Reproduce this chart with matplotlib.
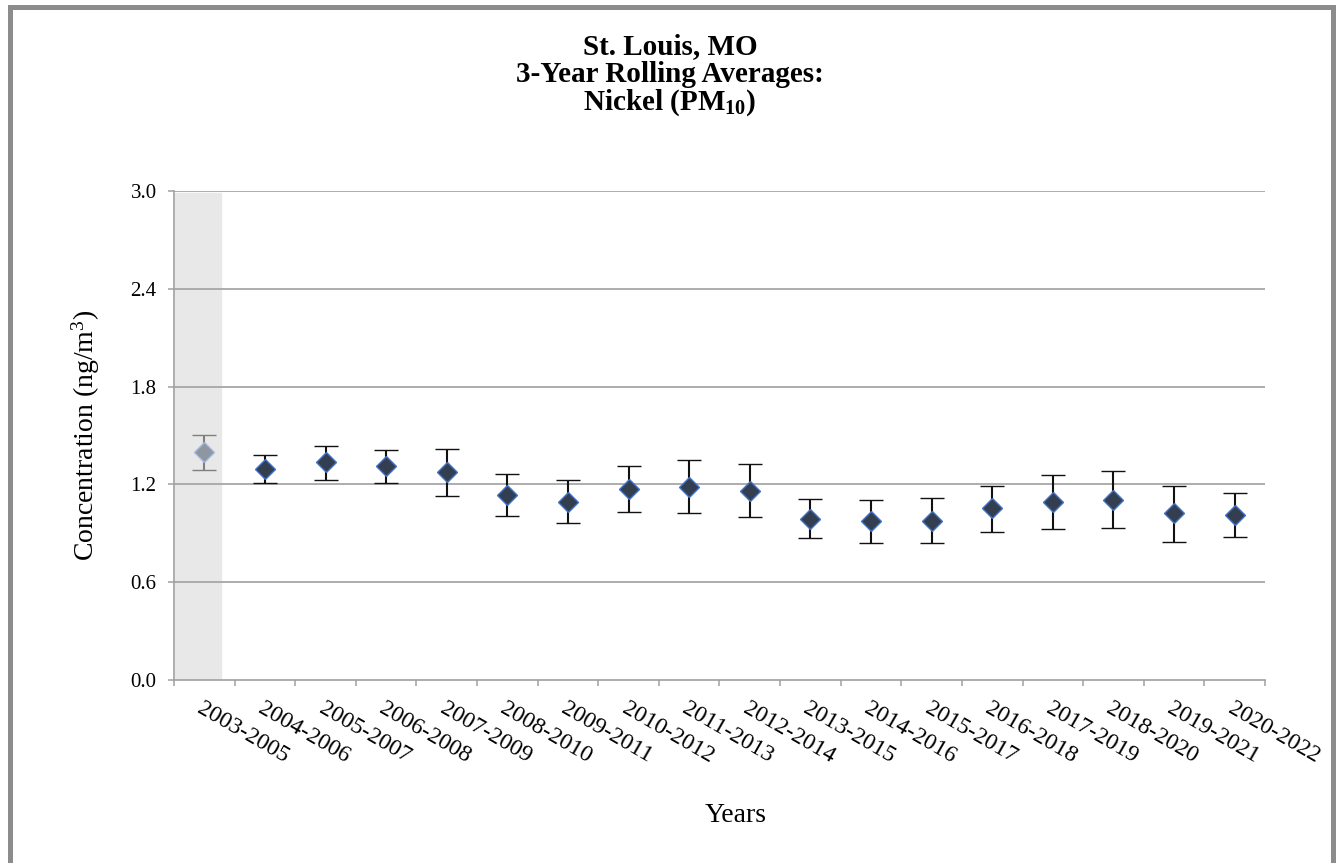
import numpy as np
import matplotlib
matplotlib.use('Agg')
import matplotlib.pyplot as plt
from matplotlib.patches import Rectangle

# 3-year rolling averages, Nickel (PM10), St. Louis MO (ng/m3)
periods = ['2003-2005', '2004-2006', '2005-2007', '2006-2008', '2007-2009', '2008-2010',
           '2009-2011', '2010-2012', '2011-2013', '2012-2014', '2013-2015', '2014-2016',
           '2015-2017', '2016-2018', '2017-2019', '2018-2020', '2019-2021', '2020-2022']
mean = np.array([1.40, 1.297, 1.336, 1.311, 1.277, 1.137, 1.094, 1.174, 1.186, 1.162,
                 0.990, 0.975, 0.977, 1.053, 1.092, 1.106, 1.022, 1.014])
lower = np.array([1.289, 1.211, 1.229, 1.207, 1.131, 1.006, 0.961, 1.031, 1.022, 0.998,
                  0.869, 0.842, 0.840, 0.910, 0.926, 0.930, 0.848, 0.879])
upper = np.array([1.506, 1.379, 1.434, 1.409, 1.418, 1.262, 1.225, 1.311, 1.348, 1.326,
                  1.108, 1.106, 1.115, 1.192, 1.256, 1.280, 1.192, 1.145])
yticks = [0.0, 0.6, 1.2, 1.8, 2.4, 3.0]

plt.rcParams['font.family'] = ['Liberation Serif', 'DejaVu Serif']
plt.rcParams['mathtext.fontset'] = 'custom'
plt.rcParams['mathtext.rm'] = 'Liberation Serif'
plt.rcParams['mathtext.it'] = 'Liberation Serif:italic'
plt.rcParams['mathtext.bf'] = 'Liberation Serif:bold'

W, H = 1336, 863
fig = plt.figure(figsize=(W / 100, H / 100), dpi=100)
ax = fig.add_axes([174 / W, 1 - 680 / H, (1265 - 174) / W, (680 - 191) / H])

x = np.arange(len(periods))
err = np.vstack([mean - lower, upper - mean])

grid_c = '#a0a0a0'
ax.axvspan(-0.49, 0.28, ymin=0, ymax=0.995, color='#e8e8e8', zorder=0)
for v in yticks[1:]:
    ax.axhline(v, color=grid_c, lw=1.2, zorder=1)

# first period is shaded (incomplete)
ax.errorbar(x[:1], mean[:1], yerr=err[:, :1], fmt='D', ms=10.2, mfc='#8e96a1', mec='#a3b8dc',
            mew=1, ecolor='#7f7f7f', elinewidth=1.5, capsize=8.5, capthick=1.5, zorder=3)
ax.errorbar(x[1:], mean[1:], yerr=err[:, 1:], fmt='D', ms=10.2, mfc='#333f50', mec='#4472c4',
            mew=1, ecolor='#111111', elinewidth=1.5, capsize=8.5, capthick=1.5, zorder=3)

ax.set_xlim(-0.5, len(periods) - 0.5)
ax.set_ylim(0, 3.0)
ax.set_yticks(yticks)
ax.set_yticklabels([f'{v:.1f}' for v in yticks], fontsize=15)
ax.tick_params(axis='y', length=4.5, width=1.1, color=grid_c, pad=8)

ax.set_xticks(np.arange(-0.5, len(periods)), minor=False)
ax.set_xticklabels([])
ax.set_xticks(x, minor=True)
ax.set_xticklabels(periods, minor=True, fontsize=17, rotation=-30, ha='left', va='top',
                   rotation_mode='anchor')
ax.tick_params(axis='x', which='major', length=4.5, width=1.1, color=grid_c)
ax.tick_params(axis='x', which='minor', length=0, pad=13)

for s in ['top', 'right']:
    ax.spines[s].set_visible(False)
for s in ['left', 'bottom']:
    ax.spines[s].set_color(grid_c)
    ax.spines[s].set_linewidth(1.2)

# titles
title_lines = ['St. Louis, MO', '3-Year Rolling Averages:', r'Nickel (PM$_{\mathbf{10}}$)']
for i, t in enumerate(title_lines):
    fig.text(670 / W, 1 - (54 + 28 * i) / H, t, ha='center', va='baseline',
             fontsize=21, fontweight='bold')

fig.text(86 / W, 1 - 435 / H, 'Concentration (ng/m$^3$)', rotation=90, ha='center',
         va='center', fontsize=20)
fig.text(736 / W, 1 - 815 / H, 'Years', ha='center', va='center', fontsize=20)

fig.patches.append(Rectangle((9.5 / W, -10 / H), (1332.5 - 9.5) / W, (873 - 7.5) / H,
                             transform=fig.transFigure, fill=False, edgecolor='#8c8c8c',
                             linewidth=3.6))

fig.savefig('out.png', dpi=100)
